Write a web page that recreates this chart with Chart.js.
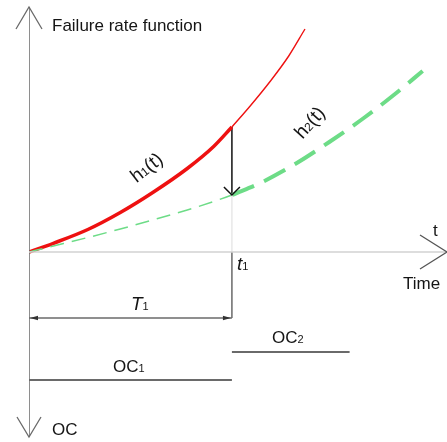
<!DOCTYPE html>
<html>
<head>
<meta charset="utf-8">
<script src="https://cdn.jsdelivr.net/npm/chart.js@4.4.1/dist/chart.umd.min.js"></script>
<style>
  html,body{margin:0;padding:0;background:#fff;}
  #wrap{width:447px;height:442px;}
</style>
</head>
<body>
<div id="wrap"><canvas id="c" width="447" height="442"></canvas></div>
<script>
// ---- data (t in units of t1, h in relative failure-rate units) ----
const h1T = [0, 0.12, 0.29, 0.45, 0.61, 0.78, 0.91, 1.0];
const h1V = [0, 0.087, 0.225, 0.395, 0.595, 0.835, 1.055, 1.25];
const h1AfterT = [1.0, 1.09, 1.19, 1.28, 1.36];
const h1AfterV = [1.25, 1.46, 1.71, 1.96, 2.23];

const h2T = [0, 0.17, 0.29, 0.45, 0.61, 0.78, 0.91, 1.0];
const h2V = [0, 0.085, 0.145, 0.23, 0.32, 0.42, 0.505, 0.57];
const h2AfterT = [1.0, 1.15, 1.32, 1.48, 1.65, 1.81, 1.94];
const h2AfterV = [0.57, 0.70, 0.89, 1.10, 1.34, 1.59, 1.81];

const t1 = 1.0;            // switching time
const ocEnd2 = 1.58;       // end of OC2 interval
const levels = { T1: -0.66, OC2: -1.00, OC1: -1.28 };  // rows under the time axis
const axisRange = { tMax: 2.06, hMax: 2.52, hMin: -1.90, vTop: 2.45, vBottom: -1.85 };

const labels = { title: 'Failure rate function', ocAxis: 'OC', t: 't', time: 'Time' };

function pts(xs, ys){ return xs.map((x,i)=>({x:x, y:ys[i]})); }

const RED = '#ee1111', GREEN = '#6ddc87', GRAY = '#6a6a6a', LIGHT = '#d2d2d2';

const datasets = [
  {data: pts([0, axisRange.tMax],[0,0]), borderColor: LIGHT, borderWidth: 1.5},
  {data: pts([0,0],[axisRange.vTop, axisRange.vBottom]), borderColor: GRAY, borderWidth: 1.5},
  {data: pts([t1,t1],[h2V[h2V.length-1], 0]), borderColor: '#e8e8e8', borderWidth: 1.5},
  {data: pts([t1,t1],[0, levels.T1]), borderColor: GRAY, borderWidth: 1.5},
  {data: pts([0,t1],[levels.T1, levels.T1]), borderColor: GRAY, borderWidth: 1.5},
  {data: pts([0,t1],[levels.OC1, levels.OC1]), borderColor: GRAY, borderWidth: 2},
  {data: pts([t1,ocEnd2],[levels.OC2, levels.OC2]), borderColor: GRAY, borderWidth: 2},
  {data: pts(h2T, h2V), borderColor: GREEN, borderWidth: 1.5, borderDash: [14, 8], cubicInterpolationMode: 'monotone'},
  {data: pts(h2AfterT, h2AfterV), borderColor: GREEN, borderWidth: 4, borderDash: [24, 11], cubicInterpolationMode: 'monotone'},
  {data: pts(h1T, h1V), borderColor: RED, borderWidth: 3.5, cubicInterpolationMode: 'monotone'},
  {data: pts(h1AfterT, h1AfterV), borderColor: RED, borderWidth: 1.4, cubicInterpolationMode: 'monotone'},
  {data: pts([t1,t1],[h1V[h1V.length-1], h2V[h2V.length-1]]), borderColor: '#111', borderWidth: 1.5}
];
datasets.forEach(d=>{ d.pointRadius = 0; d.fill = false; d.borderCapStyle = 'butt'; });

function openArrow(ctx, x, y, ang, len, half, color, w){
  const c = Math.cos(ang), s = Math.sin(ang);
  const bx = x - c*len, by = y - s*len;
  ctx.save();
  ctx.strokeStyle = color; ctx.lineWidth = w;
  ctx.beginPath();
  ctx.moveTo(bx - s*half, by + c*half); ctx.lineTo(x, y); ctx.lineTo(bx + s*half, by - c*half);
  ctx.stroke(); ctx.restore();
}
function filledArrow(ctx, x, y, ang, len, half, color){
  const c = Math.cos(ang), s = Math.sin(ang);
  const bx = x - c*len, by = y - s*len;
  ctx.save(); ctx.fillStyle = color;
  ctx.beginPath();
  ctx.moveTo(x,y); ctx.lineTo(bx - s*half, by + c*half); ctx.lineTo(bx + s*half, by - c*half);
  ctx.closePath(); ctx.fill(); ctx.restore();
}
function sub(ctx, main, subs, x, y, mainFont, subFont){
  ctx.font = mainFont; ctx.fillText(main, x, y);
  const w = ctx.measureText(main).width;
  ctx.font = subFont; ctx.fillText(subs, x + w, y);
}

const decor = {
  id: 'decor',
  afterDatasetsDraw(chart){
    const ctx = chart.ctx, xs = chart.scales.x, ys = chart.scales.y;
    const X = v => xs.getPixelForValue(v), Y = v => ys.getPixelForValue(v);
    // axis arrowheads
    openArrow(ctx, X(0), Y(axisRange.vTop), -Math.PI/2, 22, 13, GRAY, 1.3);
    openArrow(ctx, X(0), Y(axisRange.vBottom), Math.PI/2, 20, 12, GRAY, 1.3);
    openArrow(ctx, 447, Y(0), 0, 27, 17, '#555', 1.3);
    // t1 arrow head
    openArrow(ctx, X(t1), Y(h2V[h2V.length-1]), Math.PI/2, 8, 8, '#111', 1.5);
    // T1 dimension arrows
    filledArrow(ctx, X(0)+1, Y(levels.T1), Math.PI, 8, 2.2, '#333');
    filledArrow(ctx, X(t1)-1, Y(levels.T1), 0, 8, 2.2, '#333');

    ctx.save();
    ctx.fillStyle = '#151515';
    ctx.textBaseline = 'alphabetic';
    const F = '17px "Liberation Sans", Arial, sans-serif';
    const S = '11px "Liberation Sans", Arial, sans-serif';
    const FI = 'italic 19px "Liberation Sans", Arial, sans-serif';
    ctx.font = F;
    ctx.fillText(labels.title, 52, 31);
    ctx.fillText(labels.ocAxis, 52, 435);
    ctx.fillText(labels.t, 433, 236);
    ctx.fillText(labels.time, 403, 289);
    sub(ctx, 't', '1', X(t1)+5, 270, FI, S);
    sub(ctx, 'T', '1', 131, 310, FI, S);
    sub(ctx, 'OC', '1', 113, 372, F, S);
    sub(ctx, 'OC', '2', 272, 343, F, S);
    // rotated curve labels
    function rot(txt, cx, cy, ang){
      const HF = '19px "Liberation Sans", Arial, sans-serif';
      const HS = '12px "Liberation Sans", Arial, sans-serif';
      ctx.save();
      ctx.translate(cx, cy); ctx.rotate(ang);
      ctx.font = HF;
      const w1 = ctx.measureText('h').width;
      ctx.font = HS; const w2 = ctx.measureText(txt).width;
      ctx.font = HF; const w3 = ctx.measureText('(t)').width;
      const tot = w1 + w2 + w3;
      let x = -tot/2;
      ctx.fillText('h', x, 7); x += w1;
      ctx.font = HS; ctx.fillText(txt, x, 7); x += w2;
      ctx.font = HF; ctx.fillText('(t)', x, 7);
      ctx.restore();
    }
    rot('1', 146, 167, -38*Math.PI/180);
    rot('2', 309, 122, -48*Math.PI/180);
    ctx.restore();
  }
};

new Chart(document.getElementById('c'), {
  type: 'line',
  data: { datasets },
  options: {
    responsive: false,
    animation: false,
    devicePixelRatio: 1,
    layout: { padding: { left: 29, right: 0, top: 0, bottom: 0 } },
    plugins: { legend: { display: false }, tooltip: { enabled: false } },
    scales: {
      x: { type: 'linear', min: 0, max: axisRange.tMax, display: false },
      y: { type: 'linear', min: axisRange.hMin, max: axisRange.hMax, display: false }
    }
  },
  plugins: [decor]
});
</script>
</body>
</html>
